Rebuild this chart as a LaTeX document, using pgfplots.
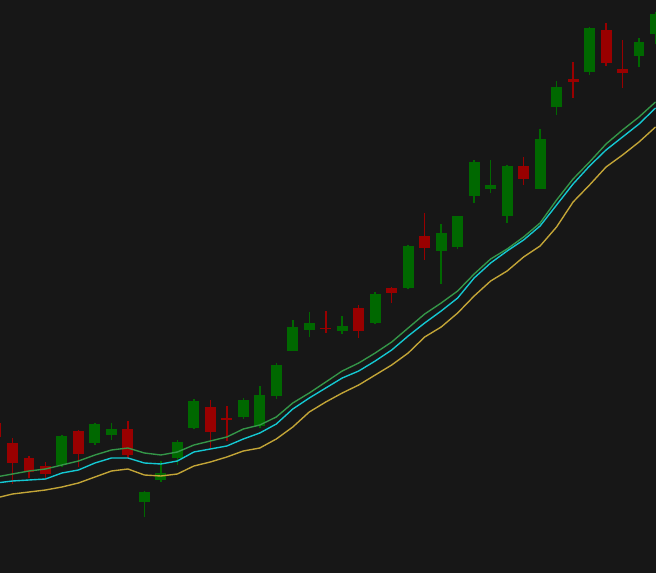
\documentclass[border=0pt]{standalone}
\usepackage{pgfplots}
\pgfplotsset{compat=1.18}
\usepackage{pgfplotstable}
\definecolor{bgcol}{RGB}{23,23,23}
\definecolor{upcol}{RGB}{0,104,0}
\definecolor{dncol}{RGB}{153,0,0}
\definecolor{magreen}{RGB}{52,150,72}
\definecolor{macyan}{RGB}{20,200,210}
\definecolor{mayellow}{RGB}{195,165,55}

\pgfplotstableread{
i o h l c
4 108 138 106 137
6 130 150 128 149
7 138 150 133 144
9 71 82 56 81
10 93 112 91 100
11 115 133 108 131
12 145 174 144 172
15 156 175 154 173
16 147 187 145 178
17 177 210 174 208
18 222 253 222 246
19 243 261 236 250
21 242 257 239 247
23 250 281 249 279
25 285 328 284 327
27 322 349 289 340
28 326 357 324 357
29 377 413 370 411
30 384 413 380 388
31 357 408 350 407
33 384 444 384 434
34 466 492 458 486
36 501 546 498 545
39 517 535 506 531
40 539 561 529 559
}\up

\pgfplotstableread{
i o h l c
0 150 153 132 136
1 130 135 89 110
2 115 117 95 101
3 107 111 93 99
5 142 143 106 119
8 144 152 115 118
13 166 173 124 141
14 155 167 132 153
20 245 262 240 244
22 265 268 235 242
24 285 286 270 280
26 337 360 313 325
32 407 416 388 394
35 494 511 475 491
37 543 550 507 510
38 504 533 485 500
}\down

\pgfplotstableread{
i g c y
0 96 90 75
1 99 92 79
2 102 93 81
3 104 94 83
4 108 100 86
5 112 103 90
6 118 110 96
7 123 115 102
8 125 115 104
9 120 110 98
10 118 109 97
11 121 112 99
12 128 121 107
13 132 124 111
14 136 127 116
15 144 134 122
16 148 140 125
17 156 149 134
18 170 164 146
19 180 175 161
20 191 185 171
21 202 195 180
22 210 202 188
23 220 212 198
24 231 223 208
25 245 237 220
26 259 250 236
27 270 262 246
28 282 275 260
29 299 295 277
30 314 310 292
31 324 322 302
32 336 333 316
33 350 347 327
34 373 368 346
35 394 389 371
36 411 407 388
37 429 423 406
38 443 436 418
39 456 449 431
40 471 465 446
}\ma

\pgfplotsset{
  candle/.style n args={2}{draw=none, mark=none,
    error bars/.cd, y dir=both, y explicit, error mark=none,
    error bar style={line width=#2, draw=#1, solid}},
}

\begin{document}
\begin{tikzpicture}
\begin{axis}[
  scale only axis,
  width=6.56in, height=5.73in,
  xmin=0.242, xmax=40.03,
  ymin=0, ymax=573,
  xtick=\empty, ytick=\empty,
  axis line style={draw=none},
  axis background/.style={fill=bgcol},
  clip=true,
]
% wicks
\addplot[candle={upcol}{1.1pt}]
  table[x=i, y expr={(\thisrow{h}+\thisrow{l})/2}, y error expr={(\thisrow{h}-\thisrow{l})/2}] {\up};
\addplot[candle={dncol}{1.1pt}]
  table[x=i, y expr={(\thisrow{h}+\thisrow{l})/2}, y error expr={(\thisrow{h}-\thisrow{l})/2}] {\down};
% bodies
\addplot[candle={upcol}{7.9pt}]
  table[x=i, y expr={(\thisrow{o}+\thisrow{c})/2}, y error expr={max(abs(\thisrow{c}-\thisrow{o})/2,0.8)}] {\up};
\addplot[candle={dncol}{7.9pt}]
  table[x=i, y expr={(\thisrow{o}+\thisrow{c})/2}, y error expr={max(abs(\thisrow{c}-\thisrow{o})/2,0.8)}] {\down};
% moving averages
\addplot[mayellow, line width=1pt, mark=none] table[x=i, y=y] {\ma};
\addplot[macyan, line width=1pt, mark=none] table[x=i, y=c] {\ma};
\addplot[magreen, line width=1pt, mark=none] table[x=i, y=g] {\ma};
\end{axis}
\end{tikzpicture}
\end{document}
